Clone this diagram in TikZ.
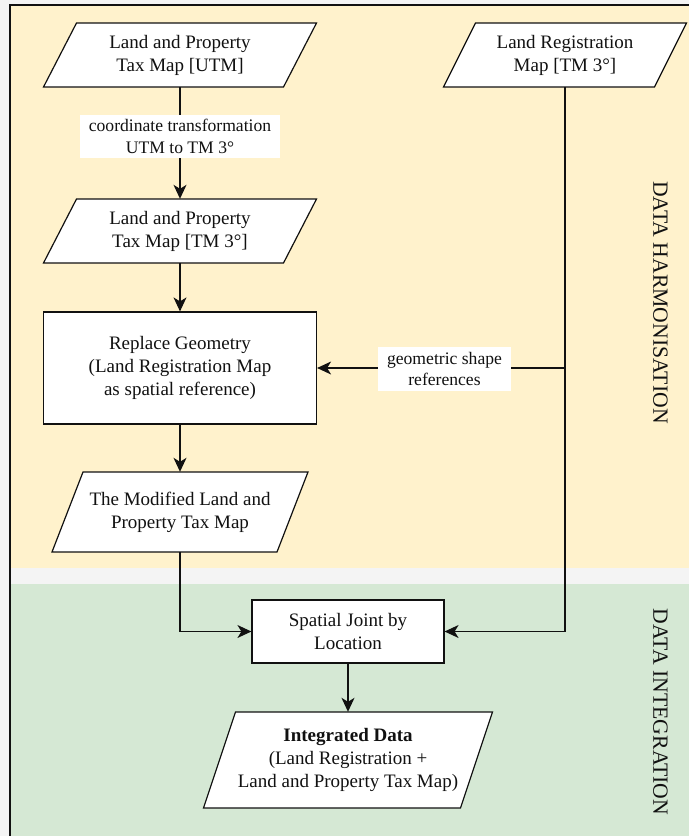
\documentclass[tikz,border=0pt]{standalone}
\usepackage{fontspec}
\setmainfont{Liberation Serif}
\usetikzlibrary{arrows.meta}
\definecolor{harm}{HTML}{FFF2CC}
\definecolor{integ}{HTML}{D5E8D4}
\definecolor{pagebg}{HTML}{F4F4F4}
\definecolor{ink}{HTML}{111111}
\tikzset{
  shapeline/.style={draw=ink, line width=1.2pt, fill=white},
  txt/.style={inner sep=0pt, align=center, text=ink, font=\fontsize{19}{23}\selectfont},
  boxnode/.style={txt, draw=ink, line width=1.2pt, fill=white},
  lab/.style={inner sep=0pt, align=center, text=ink, fill=white, font=\fontsize{17.6}{21.5}\selectfont},
  conn/.style={draw=ink, line width=1.2pt},
  arr/.style={conn, -{Stealth[length=14pt,width=13pt,inset=4pt]}},
  lanetitle/.style={inner sep=0pt, text=ink, rotate=-90, font=\fontsize{21.7}{26}\selectfont}
}
% #1 name, #2 cx, #3 cy, #4 half width, #5 half height, #6 slant, #7 text
\newcommand\paranode[7]{%
  \draw[shapeline] (#2-#4+#6/2,#3-#5) -- (#2+#4+#6/2,#3-#5) -- (#2+#4-#6/2,#3+#5) -- (#2-#4-#6/2,#3+#5) -- cycle;
  \node[txt, minimum height={2*#5pt}, minimum width={2*#4pt}] (#1) at (#2,#3) {#7};
}
\begin{document}
\begin{tikzpicture}[x=1pt,y=-1pt]
\useasboundingbox (0,0) rectangle (689,836);
% backgrounds
\fill[pagebg] (0,0) rectangle (689,836);
\fill[harm] (10,5) rectangle (689,568);
\fill[integ] (10,584) rectangle (689,836);
\draw[ink, line width=1.6pt] (10,836) -- (10,5) -- (689,5);

% lane titles
\node[lanetitle] (hartitle) at (660.5,302.5) {DATA HARMONISATION};
\node[lanetitle] (inttitle) at (660.5,712) {DATA INTEGRATION};

% shapes
\paranode{utm}{180}{55}{120}{32}{33}{Land and Property\\Tax Map [UTM]}
\paranode{tm}{180}{231}{120}{32}{33}{Land and Property\\Tax Map [TM 3°]}
\paranode{mod}{180}{512}{112.5}{40}{31}{The Modified Land and\\Property Tax Map}
\paranode{lrm}{565}{55}{105.5}{32}{32}{Land Registration\\Map [TM 3°]}
\paranode{integ}{348}{760}{128.5}{48}{32}{\textbf{Integrated Data}\\(Land Registration +\\Land and Property Tax Map)}

\node[boxnode, minimum width=273pt, minimum height=112pt] (repl) at (180,368) {Replace Geometry\\(Land Registration Map\\as spatial reference)};
\node[boxnode, minimum width=192pt, minimum height=63pt] (join) at (348,631.5) {Spatial Joint by\\Location};

% connectors
\draw[arr] (utm.south) -- (tm.north);
\draw[arr] (tm.south) -- (repl.north);
\draw[arr] (repl.south) -- (mod.north);
\draw[arr] (mod.south) |- (join.west);
\draw[arr] (lrm.south) |- (join.east);
\draw[arr] (lrm.south) |- (repl.east);
\draw[arr] (join.south) -- (integ.north);

% edge labels
\node[lab, minimum width=200pt, minimum height=43pt] (coordlab) at (180,136.5) {coordinate transformation\\UTM to TM 3°};
\node[lab, minimum width=133pt, minimum height=44pt] (geolab) at (444.5,369) {geometric shape\\references};
\end{tikzpicture}
\end{document}
